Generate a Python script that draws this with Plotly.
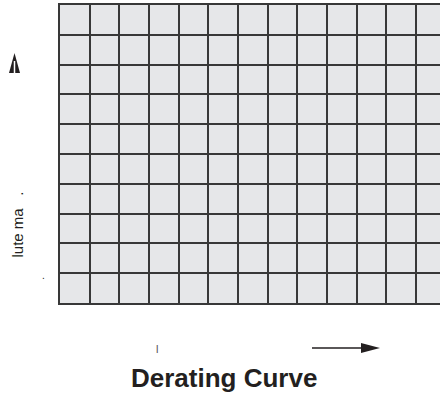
import plotly.graph_objects as go

# Grid definition (derating curve template, no curve drawn)
x_columns = list(range(0, 13))      # vertical grid divisions
y_rows = list(range(0, 11))         # horizontal grid divisions
title_text = "Derating Curve"
y_label_fragment = "lute ma\u00a0\u00a0\u00a0."

W, H = 440, 397
ML, MR, MT, MB = 60, 0, 5, 94
PW, PH = W - ML - MR, H - MT - MB
COL = 29.67
XMAX = PW / COL

def px(x):
    return (x - ML) / PW

def py(y):
    return (H - MB - y) / PH

fig = go.Figure()
fig.add_trace(go.Scatter(x=[0, XMAX], y=[0, 10], mode="markers",
                         marker=dict(opacity=0), hoverinfo="skip", showlegend=False))

LINE = "#383838"
fig.update_xaxes(range=[0, XMAX], tickvals=x_columns, showticklabels=False,
                 showgrid=True, gridcolor=LINE, gridwidth=1.6, zeroline=False,
                 showline=True, linecolor=LINE, linewidth=1.8, mirror=True, ticks="")
fig.update_yaxes(range=[0, 10], tickvals=y_rows, showticklabels=False,
                 showgrid=True, gridcolor=LINE, gridwidth=1.6, zeroline=False,
                 showline=True, linecolor=LINE, linewidth=1.8, mirror=False, ticks="")

DARK = "#231f20"
shapes = [
    # up arrow head on the left
    dict(type="path", xref="paper", yref="paper",
         path=f"M {px(9)},{py(73)} L {px(14.5)},{py(53)} L {px(20)},{py(73)} Z",
         fillcolor=DARK, line=dict(width=0)),
    dict(type="line", xref="paper", yref="paper",
         x0=px(14.5), x1=px(14.5), y0=py(73), y1=py(61),
         line=dict(color="white", width=1.5)),
    # right arrow at the bottom
    dict(type="line", xref="paper", yref="paper",
         x0=px(312), x1=px(366), y0=py(348), y1=py(348),
         line=dict(color=DARK, width=1.5)),
    dict(type="path", xref="paper", yref="paper",
         path=f"M {px(361)},{py(343)} L {px(380)},{py(348)} L {px(361)},{py(353)} Z",
         fillcolor=DARK, line=dict(width=0)),
]

FONT = "Liberation Sans, Arial"
annotations = [
    dict(text=y_label_fragment, textangle=-90, xref="paper", yref="paper",
         x=px(16.5), y=py(225), xanchor="center", yanchor="middle", showarrow=False,
         font=dict(family=FONT, size=15, color=DARK)),
    dict(text=".", xref="paper", yref="paper", x=px(43.5), y=py(275),
         xanchor="center", yanchor="middle",
         showarrow=False, font=dict(family=FONT, size=10, color=DARK)),
    dict(text="l", xref="paper", yref="paper", x=px(157), y=py(349),
         xanchor="center", yanchor="middle",
         showarrow=False, font=dict(family=FONT, size=11, color="#555555")),
    dict(text=f"<b>{title_text}</b>", xref="paper", yref="paper",
         x=px(224), y=py(378), xanchor="center", yanchor="middle", showarrow=False,
         font=dict(family=FONT, size=26, color=DARK)),
]

fig.update_layout(width=W, height=H, margin=dict(l=ML, r=MR, t=MT, b=MB),
                  plot_bgcolor="#e6e7e9", paper_bgcolor="white",
                  shapes=shapes, annotations=annotations, showlegend=False)

fig.write_html("out.html", config={"displayModeBar": False},
               post_script="document.body.style.margin='0';")
